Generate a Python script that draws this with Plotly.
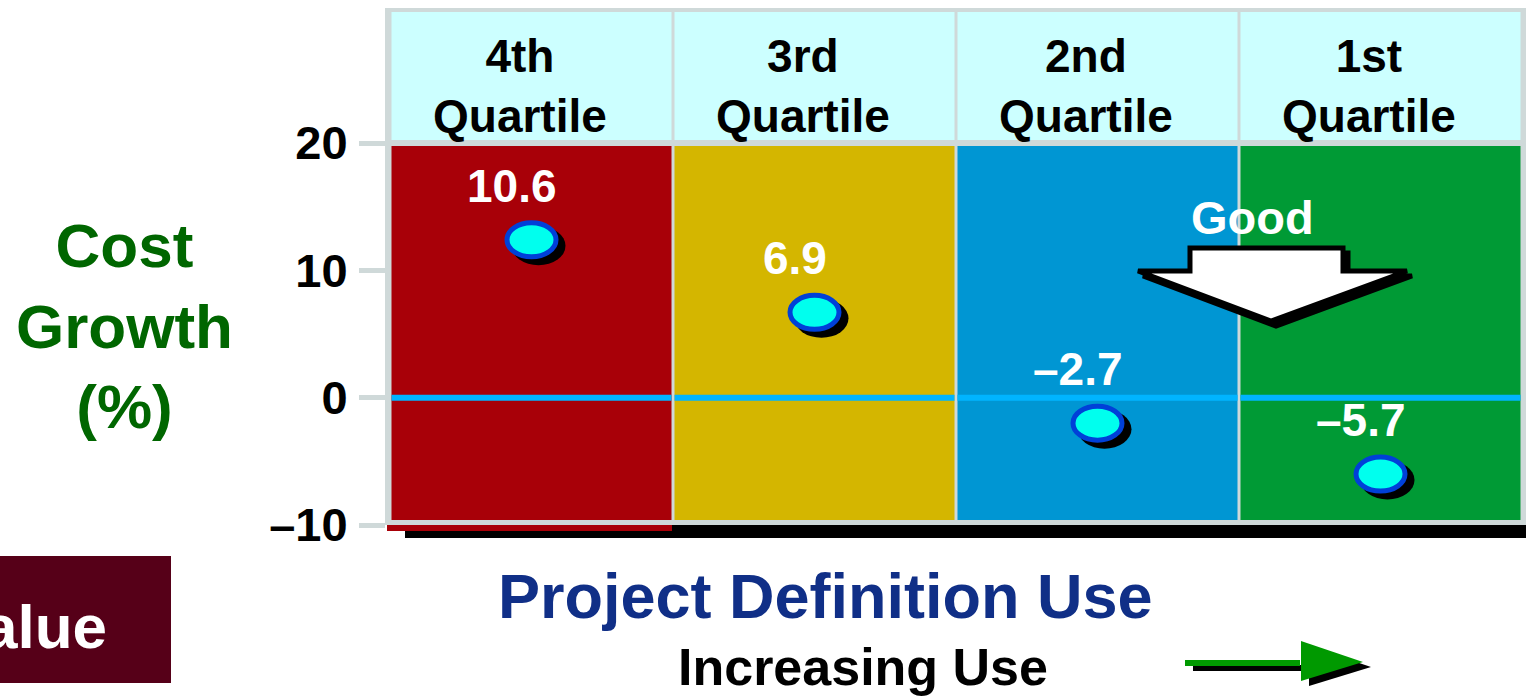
import plotly.graph_objects as go

# ---------------- data ----------------
quartiles = ["4th<br>Quartile", "3rd<br>Quartile", "2nd<br>Quartile", "1st<br>Quartile"]
value_labels = ["10.6", "6.9", "–2.7", "–5.7"]
marker_y = [12.4, 6.7, -2.0, -6.0]          # marker heights as drawn in the picture
cell_colors = ["#A80008", "#D4B600", "#0096D3", "#009A35"]
tick_vals = [-10, 0, 10, 20]
tick_text = ["–10", "0", "10", "20"]

FONT = "Liberation Sans, Arial, sans-serif"
W, H = 1526, 696
L, R, T, B = 390, 4, 8, 171
PW, PH = W - L - R, H - T - B
Y0, Y1 = -10, -10 + PH / (382 / 30)


def px(x):
    return (x - L) / PW


def py(y):
    return (H - B - y) / PH


def ydat(y):
    return Y0 + (H - B - y) / PH * (Y1 - Y0)


GRAY = "#CFD9D9"
n = len(quartiles)
xc = [i + 0.5 for i in range(n)]
ins = 1.5 / (PW / n)

fig = go.Figure()
fig.add_trace(go.Scatter(x=xc, y=marker_y, mode="markers",
                         marker=dict(size=40, opacity=0),
                         text=value_labels, hoverinfo="text", showlegend=False))

shapes = []
# gray frame
shapes.append(dict(type="rect", xref="paper", yref="paper", x0=px(387), x1=px(1526),
                   y0=py(526), y1=py(8), fillcolor=GRAY, line=dict(width=0), layer="below"))
# bottom shadow strips
shapes.append(dict(type="rect", xref="paper", yref="paper", x0=px(405), x1=px(1526),
                   y0=py(538), y1=py(525), fillcolor="black", line=dict(width=0), layer="below"))
shapes.append(dict(type="rect", xref="paper", yref="paper", x0=px(387), x1=px(672),
                   y0=py(531), y1=py(525), fillcolor=cell_colors[0], line=dict(width=0), layer="below"))

for i in range(n):
    # header cell
    shapes.append(dict(type="rect", xref="x", yref="y", x0=i + ins, x1=i + 1 - ins,
                       y0=ydat(140), y1=ydat(12), fillcolor="#CCFFFF",
                       line=dict(width=0), layer="below"))
    # body cell
    shapes.append(dict(type="rect", xref="x", yref="y", x0=i + ins, x1=i + 1 - ins,
                       y0=ydat(520), y1=ydat(146), fillcolor=cell_colors[i],
                       line=dict(width=0), layer="below"))
    # zero line segment
    shapes.append(dict(type="line", xref="x", yref="y", x0=i + ins, x1=i + 1 - ins,
                       y0=0, y1=0, line=dict(color="#00B4FF", width=6), layer="below"))

# markers (ellipses with drop shadow)
for x, y in zip(xc, marker_y):
    shapes.append(dict(type="circle", xref="x", yref="y", xsizemode="pixel", ysizemode="pixel",
                       xanchor=x, yanchor=y, x0=-27 + 7, x1=27 + 7, y0=-19.5 - 6, y1=19.5 - 6,
                       fillcolor="black", line=dict(width=0)))
    shapes.append(dict(type="circle", xref="x", yref="y", xsizemode="pixel", ysizemode="pixel",
                       xanchor=x, yanchor=y, x0=-24.5, x1=24.5, y0=-17, y1=17,
                       fillcolor="#00FFEE", line=dict(color="#0040D8", width=5)))


def path(pts, dx=0, dy=0):
    s = "M " + " L ".join(f"{px(a + dx):.5f},{py(b + dy):.5f}" for a, b in pts) + " Z"
    return s


good_arrow = [(1190, 248), (1343, 248), (1343, 271), (1407, 271), (1271, 321),
              (1138, 271), (1190, 271)]
shapes.append(dict(type="path", xref="paper", yref="paper", path=path(good_arrow, 5, 5),
                   fillcolor="black", line=dict(color="black", width=5)))
shapes.append(dict(type="path", xref="paper", yref="paper", path=path(good_arrow),
                   fillcolor="white", line=dict(color="black", width=5)))

# green "increasing" arrow
shaft = [(1185, 660), (1300, 660), (1300, 666), (1185, 666)]
head = [(1301, 641), (1363, 662), (1301, 681)]
shapes.append(dict(type="path", xref="paper", yref="paper", path=path(shaft, 8, 5),
                   fillcolor="black", line=dict(width=0)))
shapes.append(dict(type="path", xref="paper", yref="paper", path=path(head, 8, 5),
                   fillcolor="black", line=dict(width=0)))
shapes.append(dict(type="path", xref="paper", yref="paper", path=path(shaft),
                   fillcolor="#009900", line=dict(width=0)))
shapes.append(dict(type="path", xref="paper", yref="paper", path=path(head),
                   fillcolor="#009900", line=dict(width=0)))

# "Value" box
shapes.append(dict(type="rect", xref="paper", yref="paper", x0=px(-5), x1=px(171),
                   y0=py(683), y1=py(556), fillcolor="#560018", line=dict(width=0)))

annotations = []
for x, q in zip(xc, quartiles):
    annotations.append(dict(x=x, y=py(86), xref="x", yref="paper", xshift=-12,
                            text=f"<b>{q}</b>", showarrow=False,
                            font=dict(family=FONT, size=46, color="black"),
                            xanchor="center", yanchor="middle"))
for x, y, t in zip(xc, marker_y, value_labels):
    annotations.append(dict(x=x, y=y, xref="x", yref="y", xshift=-20, yshift=54,
                            text=f"<b>{t}</b>", showarrow=False,
                            font=dict(family=FONT, size=46, color="white"),
                            xanchor="center", yanchor="middle"))

annotations += [
    dict(x=px(1252), y=py(217), xref="paper", yref="paper", text="<b>Good</b>",
         showarrow=False, font=dict(family=FONT, size=47, color="white"),
         xanchor="center", yanchor="middle"),
    dict(x=px(124), y=py(326), xref="paper", yref="paper",
         text="<b>Cost<br>Growth<br>(%)</b>", showarrow=False,
         font=dict(family=FONT, size=62, color="#006600"),
         xanchor="center", yanchor="middle"),
    dict(x=px(825), y=py(596), xref="paper", yref="paper",
         text="<b>Project Definition Use</b>", showarrow=False,
         font=dict(family=FONT, size=63, color="#102F87"),
         xanchor="center", yanchor="middle"),
    dict(x=px(863), y=py(667), xref="paper", yref="paper",
         text="<b>Increasing Use</b>", showarrow=False,
         font=dict(family=FONT, size=52, color="black"),
         xanchor="center", yanchor="middle"),
    dict(x=px(109), y=py(626), xref="paper", yref="paper",
         text="<b>Value</b>", showarrow=False,
         font=dict(family=FONT, size=62, color="white"),
         xanchor="right", yanchor="middle"),
]

fig.update_layout(
    width=W, height=H,
    margin=dict(l=L, r=R, t=T, b=B, pad=0),
    paper_bgcolor="white", plot_bgcolor="rgba(0,0,0,0)",
    shapes=shapes, annotations=annotations,
    xaxis=dict(range=[0, n], visible=False, fixedrange=True),
    yaxis=dict(range=[Y0, Y1], tickvals=tick_vals, ticktext=tick_text,
               showgrid=False, zeroline=False, showline=True, linecolor=GRAY, linewidth=5,
               ticks="outside", ticklen=26, tickwidth=5, tickcolor=GRAY,
               ticklabelstandoff=2,
               tickfont=dict(family=FONT, size=47, color="black", weight="bold"),
               fixedrange=True),
    showlegend=False,
)

fig.write_html("out.html")
